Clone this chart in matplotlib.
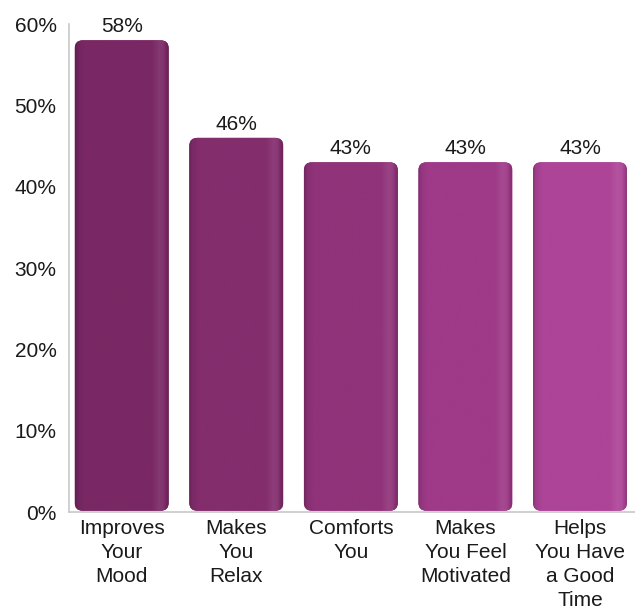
import numpy as np
import matplotlib
matplotlib.use("Agg")
import matplotlib.pyplot as plt
from matplotlib.patches import FancyBboxPatch
from matplotlib.colors import to_rgb

plt.rcParams['font.family'] = ['Liberation Sans', 'DejaVu Sans']

# survey results
categories = ["Improves\nYour\nMood", "Makes\nYou\nRelax", "Comforts\nYou",
              "Makes\nYou Feel\nMotivated", "Helps\nYou Have\na Good\nTime"]
values = [58, 46, 43, 43, 43]
bar_colors = ["#7a2865", "#832d6d", "#90337a", "#9e3a88", "#ad4497"]
yticks = [0, 10, 20, 30, 40, 50, 60]

fig = plt.figure(figsize=(6.35, 6.14), dpi=100)
ax = fig.add_axes([69 / 635, 102 / 614, 566 / 635, 488 / 614])

x = np.arange(len(values))
width = 0.82
xlim = (-0.46, 4.48)
ax.set_xlim(*xlim)
ax.set_ylim(0, 60)

# ratio of y to x data units per pixel, so the corners look round on screen
px_x = 566 / (xlim[1] - xlim[0])
px_y = 488 / 60
aspect = px_x / px_y
rad = 0.07


def shade(base):
    # horizontal light/dark profile of a rounded bar
    t = np.linspace(0, 1, 200)
    prof = np.interp(t, [0, 0.03, 0.1, 0.82, 0.9, 0.95, 1.0],
                     [-0.22, -0.08, 0.0, 0.0, 0.08, 0.05, -0.18])
    c = np.array(to_rgb(base))
    rows = []
    for p in prof:
        if p >= 0:
            rows.append(c + (1 - c) * p)
        else:
            rows.append(c * (1 + p))
    return np.array(rows)[None, :, :]


bars = ax.bar(x, values, width=width, color="none")
for rect, col, v in zip(bars, bar_colors, values):
    x0 = rect.get_x()
    w = rect.get_width()
    h = rect.get_height()
    patch = FancyBboxPatch((x0, 0.15), w, h - 0.15,
                           boxstyle=f"round,pad=0,rounding_size={rad}",
                           mutation_aspect=aspect,
                           facecolor=col, edgecolor="none", zorder=2)
    ax.add_patch(patch)
    img = ax.imshow(shade(col), extent=(x0, x0 + w, 0, h), aspect="auto",
                    zorder=3, interpolation="bilinear")
    img.set_clip_path(patch)
    ax.text(x0 + w / 2, h + 0.5, f"{v}%", ha="center", va="bottom",
            fontsize=15, color="#1a1a1a", zorder=4, clip_on=False)

ax.set_xlim(*xlim)
ax.set_ylim(0, 60)

ax.set_yticks(yticks)
ax.set_yticklabels([f"{t}%" for t in yticks], fontsize=15, color="#1a1a1a")
ax.set_xticks(x)
ax.set_xticklabels(categories, fontsize=15, color="#1a1a1a", linespacing=1.33)
ax.tick_params(axis="both", length=0)
ax.tick_params(axis="y", pad=9)
ax.tick_params(axis="x", pad=5)

for s in ["top", "right"]:
    ax.spines[s].set_visible(False)
for s in ["left", "bottom"]:
    ax.spines[s].set_color("#c8c8c8")
    ax.spines[s].set_linewidth(1.2)

fig.savefig("out.png", dpi=100)
